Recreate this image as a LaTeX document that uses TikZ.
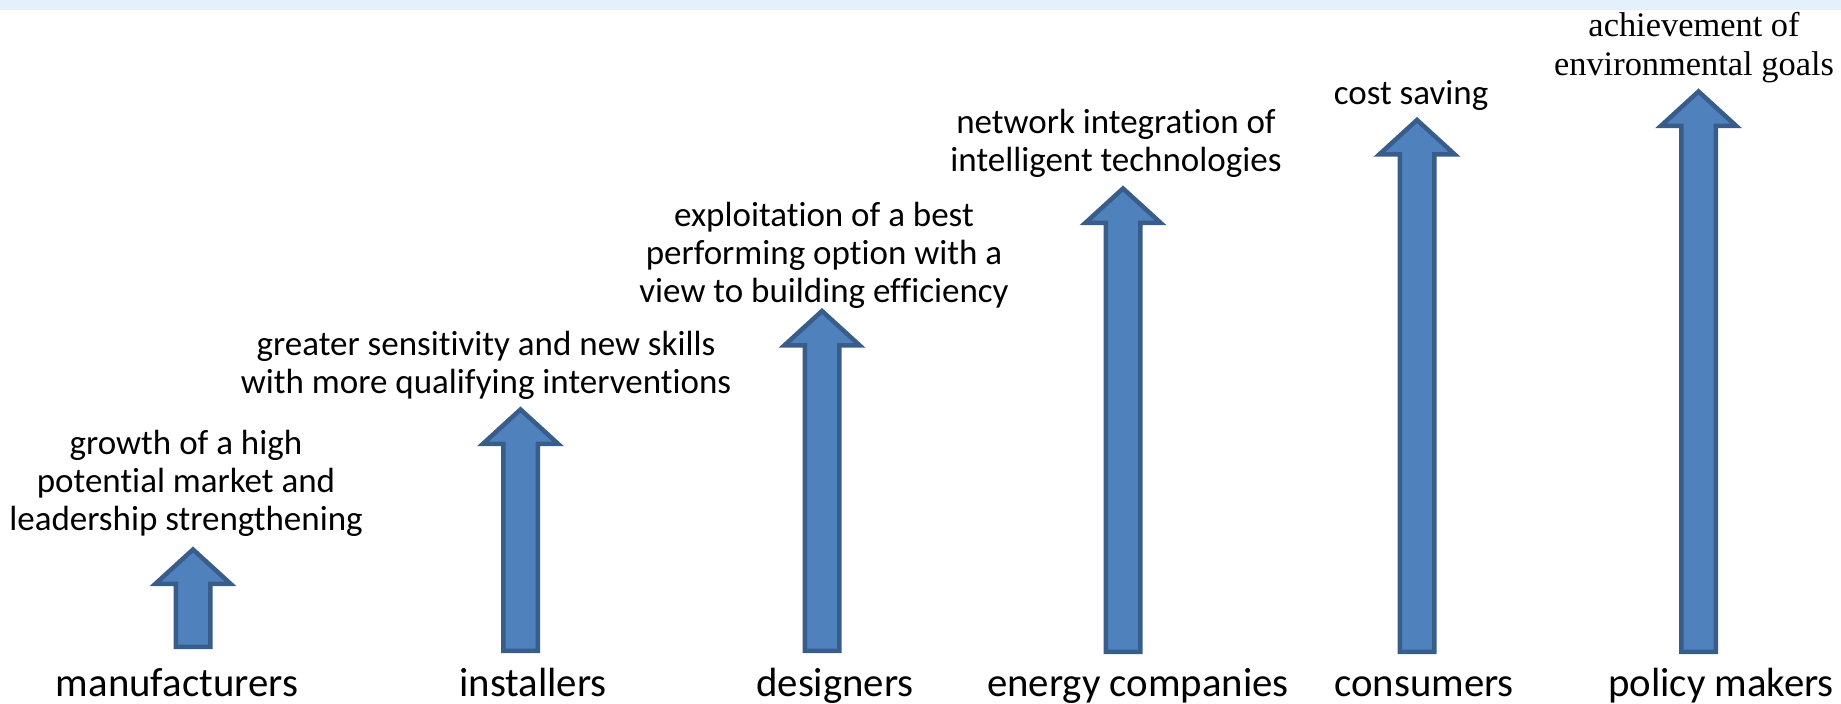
\documentclass[tikz,border=0pt]{standalone}
\usepackage{fontspec}
\setmainfont{Carlito}[Ligatures=NoCommon]
\newfontfamily\goalserif{Liberation Serif}
\definecolor{arrowfill}{HTML}{4F81BD}
\definecolor{arrowline}{HTML}{385D8A}
\definecolor{bandblue}{HTML}{E3F1FC}
\newcommand{\riserarrow}[4]{% #1 name, #2 centre x, #3 tip y, #4 bottom y
  \draw[bluearrow] (#2-17.25,#4) -- (#2-17.25,#3+34.5) -- (#2-37.75,#3+34.5)
    -- (#2,#3) -- (#2+37.75,#3+34.5) -- (#2+17.25,#3+34.5) -- (#2+17.25,#4) -- cycle;
  \coordinate (#1) at (#2,#3);}
\begin{document}
\begin{tikzpicture}[x=0.5pt,y=-0.5pt,
  bluearrow/.style={fill=arrowfill,draw=arrowline,line width=2.25pt,line join=miter},
  goal/.style={align=center,inner sep=0pt,font=\fontsize{17.5}{19}\selectfont},
  seriffgoal/.style={align=center,inner sep=0pt,font=\goalserif\fontsize{17.2}{19.5}\selectfont},
  actor/.style={anchor=base,inner sep=0pt,font=\fontsize{20.4}{24}\selectfont}]
\useasboundingbox (0,0) rectangle (1841,704);
\fill[bandblue] (0,0) rectangle (1841,10);

\riserarrow{a1}{193}{549.5}{647}
\riserarrow{a2}{520.5}{409.5}{651}
\riserarrow{a3}{822}{311}{651}
\riserarrow{a4}{1123}{188.5}{652}
\riserarrow{a5}{1417}{120}{652}
\riserarrow{a6}{1698.5}{91.5}{652}

\node[goal] (g1) at (186,483) {growth of a high\\potential market and\\leadership strengthening};
\node[goal] (g2) at (486,365) {greater sensitivity and new skills\\with more qualifying interventions};
\node[goal] (g3) at (824,255) {exploitation of a best\\performing option with a\\view to building efficiency};
\node[goal] (g4) at (1116,143) {network integration of\\intelligent technologies};
\node[goal,anchor=base] (g5) at (1411,105) {cost saving};
\node[seriffgoal] (g6) at (1694,48) {achievement of\\environmental goals};

\node[actor] (m) at (177,697) {manufacturers};
\node[actor] (i) at (533,697) {installers};
\node[actor] (d) at (835,697) {designers};
\node[actor] (e) at (1138,697) {energy companies};
\node[actor] (c) at (1424,697) {consumers};
\node[actor] (p) at (1721,697) {policy makers};
\end{tikzpicture}
\end{document}
